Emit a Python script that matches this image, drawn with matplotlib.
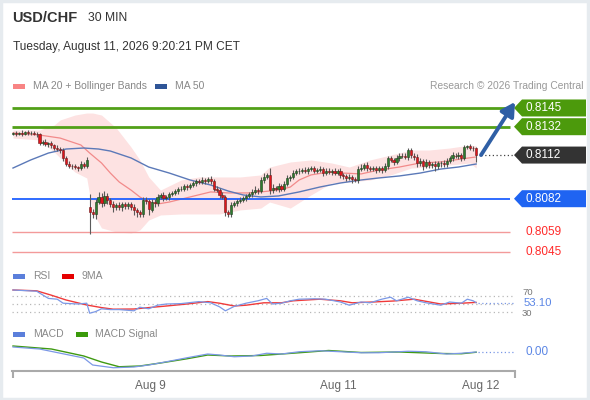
import matplotlib
matplotlib.use('Agg')
import matplotlib.pyplot as plt
import numpy as np
from matplotlib.patches import Polygon, Rectangle

plt.rcParams['font.family'] = ['Liberation Sans', 'DejaVu Sans']

# ---------------- data (prices in pips above 0.8000) ----------------
closes = [
    127.5, 127.0, 127.6, 127.2, 128.0, 127.4, 127.8, 127.0, 126.6,
    120.5,
    121.5, 119.8, 120.6, 119.0, 117.5, 116.8, 115.5, 110.0,
    106.0, 105.0, 104.5, 104.0, 103.5, 106.0, 105.0, 109.0,
    72.5,
    71.5, 80.0, 83.5, 79.0, 84.0, 81.0,
    78.5, 76.0, 77.5, 76.5, 78.0, 77.0, 78.5, 76.0, 74.0, 72.5, 71.5,
    81.0, 80.5, 74.5, 80.0, 79.0,
    83.5, 84.5, 82.5, 83.0, 85.5, 86.0,
    87.0, 88.5, 89.0, 90.5, 90.0, 91.5, 93.0, 94.0, 93.5,
    95.0, 94.5, 95.5, 94.0,
    89.0, 88.0, 84.5, 83.0, 72.5, 71.5, 77.5,
    79.0, 80.5, 81.0, 82.5, 84.0, 85.0,
    86.5, 88.0, 87.5, 95.0, 97.0, 98.5, 88.0,
    89.5, 88.5, 91.0, 89.0, 92.0, 96.5, 97.0, 100.0, 101.0,
    101.5, 102.0, 101.0, 102.5, 103.0, 101.5, 102.0, 102.5,
    100.0, 101.5, 100.5, 101.0, 100.0, 101.0, 98.5,
    97.5, 96.5, 97.0, 95.5, 95.0, 102.5,
    103.5, 105.5, 103.0, 102.5, 103.0, 102.0, 103.5, 102.0,
    104.5, 110.0, 109.0, 107.5, 110.5, 112.0, 111.5, 111.0, 116.0,
    112.0, 111.0, 106.5, 108.0, 105.0, 107.5, 105.5,
    106.0, 104.5, 106.5, 107.0, 106.0, 108.5,
    110.0, 112.0, 111.5, 112.5, 110.5, 118.0, 118.5, 117.5, 117.0, 112.3,
]
first_open = 127.2
gap_bar, gap_open = 26, 76.0

wick_hi = [
    1.0, 1.5, 1.0, 2.0, 1.0, 1.5, 1.0, 1.5, 1.0, 1.0,
    1.5, 2.0, 1.0, 1.5, 1.0, 1.5, 1.0, 1.5, 1.5, 2.0,
    1.0, 1.5, 1.0, 2.0, 1.5, 2.0, 9.0, 2.5, 2.0, 3.0,
    2.5, 3.5, 2.0, 1.5, 2.0, 1.5, 2.5, 1.5, 2.0, 1.5,
    1.5, 2.0, 1.5, 1.5, 2.0, 2.0, 1.5, 1.5, 2.0, 1.5,
    1.5, 2.0, 1.5, 1.5, 1.5, 2.0, 1.5, 1.5, 2.0, 1.5,
    1.5, 1.5, 2.0, 1.5, 2.0, 1.5, 1.5, 2.0, 1.5, 1.5,
    1.5, 2.0, 1.5, 1.5, 2.0, 1.5, 1.5, 2.0, 1.5, 1.5,
    1.5, 2.0, 2.5, 1.5, 2.0, 2.5, 1.5, 4.5, 2.5, 1.5,
    2.0, 1.5, 2.0, 2.0, 1.5, 2.0, 1.5, 2.0, 1.5, 2.0,
    1.5, 2.0, 1.5, 1.5, 2.0, 1.5, 2.0, 1.5, 1.5, 2.0,
    1.5, 2.0, 1.5, 1.5, 2.0, 1.5, 1.5, 2.0, 2.5, 1.5,
    2.0, 1.5, 1.5, 2.0, 1.5, 1.5, 2.0, 2.0, 1.5, 1.5,
    2.0, 1.5, 1.5, 2.0, 1.5, 1.5, 1.5, 2.0, 2.5, 1.5,
    2.0, 1.5, 1.5, 2.0, 1.5, 1.5, 2.0, 1.5, 2.0, 2.5,
    1.5, 2.0, 1.5, 1.5, 1.0, 1.5, 1.0, 1.0,
]
wick_lo = [
    1.0, 1.5, 1.0, 1.5, 1.0, 1.0, 1.5, 1.0, 1.5, 1.5,
    1.5, 1.5, 2.0, 1.5, 1.5, 2.0, 1.5, 2.0, 1.5, 2.0,
    2.0, 1.5, 2.0, 1.5, 2.0, 1.5, 15.0, 3.0, 3.5, 2.0,
    3.0, 2.0, 3.0, 2.5, 3.0, 2.0, 2.5, 3.0, 2.0, 2.5,
    2.0, 3.0, 3.0, 2.5, 2.0, 2.5, 3.5, 2.0, 2.5, 2.0,
    1.5, 2.0, 1.5, 2.0, 1.5, 1.5, 2.0, 1.5, 1.5, 2.0,
    1.5, 1.5, 2.0, 1.5, 1.5, 2.0, 1.5, 1.5, 2.0, 1.5,
    2.0, 1.5, 2.5, 2.0, 2.0, 1.5, 2.0, 1.5, 1.5, 2.0,
    1.5, 2.0, 1.5, 2.0, 1.5, 2.0, 1.5, 2.5, 2.0, 1.5,
    2.0, 1.5, 2.0, 1.5, 2.0, 1.5, 1.5, 2.0, 1.5, 1.5,
    2.0, 1.5, 1.5, 2.0, 1.5, 2.0, 1.5, 1.5, 2.0, 1.5,
    1.5, 2.0, 1.5, 2.0, 1.5, 2.5, 1.5, 2.0, 1.5, 1.5,
    2.0, 1.5, 1.5, 2.0, 1.5, 2.0, 1.5, 2.0, 1.5, 2.0,
    1.5, 2.0, 1.5, 1.5, 2.0, 1.5, 2.0, 2.5, 2.0, 3.0,
    2.0, 2.5, 2.0, 3.0, 2.0, 2.5, 2.0, 2.0, 1.5, 2.0,
    1.5, 2.0, 2.0, 1.5, 1.5, 1.5, 2.0, 4.8,
]

# Bollinger bands / moving averages (bar index, pips)
bb_idx = [0, 9, 14, 16, 21, 25, 27, 30, 35, 40, 43, 46, 50, 57, 63, 70, 77, 84, 87,
          94, 101, 108, 114, 121, 128, 135, 141, 148, 155, 157]
bb_up = [129.7, 129.7, 133.2, 136.7, 140.1, 141.5, 141.5, 140.1, 131.1, 117.9, 108.9,
         97.1, 88.0, 95.0, 97.1, 97.1, 97.1, 98.5, 104.0, 107.5, 108.9, 106.8, 104.0,
         108.9, 112.3, 115.8, 115.8, 117.2, 119.3, 118.6]
bb_lo = [124.1, 122.8, 114.4, 110.3, 100.5, 96.4, 72.8, 61.7, 58.9, 58.2, 60.3, 67.2,
         70.7, 71.4, 71.4, 71.4, 74.2, 75.5, 79.7, 75.5, 84.6, 92.9, 93.6, 95.0, 98.5,
         103.3, 104.0, 105.4, 106.8, 103.3]

ma20_idx = [0, 9, 16, 23, 26, 30, 33, 36, 40, 43, 46, 49, 53, 60, 67, 73, 80, 84, 90,
            94, 97, 101, 107, 112, 118, 124, 131, 138, 145, 152, 157]
ma20 = [127.6, 126.2, 124.1, 119.3, 113.7, 106.8, 99.8, 93.6, 88.0, 83.2, 79.7, 78.3,
        79.7, 83.2, 86.7, 86.0, 86.0, 86.7, 88.0, 90.1, 95.0, 98.5, 100.5, 99.8, 99.2,
        101.9, 104.0, 106.8, 107.5, 109.6, 111.0]

ma50_idx = [0, 6, 12, 18, 24, 29, 33, 40, 46, 53, 60, 67, 73, 78, 84, 90, 97, 104, 111,
            118, 124, 131, 138, 145, 151, 157]
ma50 = [103.3, 108.9, 113.7, 116.5, 117.2, 116.5, 115.1, 110.3, 104.0, 99.8, 95.0, 91.5,
        87.3, 84.6, 83.2, 83.9, 86.7, 90.1, 92.9, 95.0, 96.4, 97.8, 99.8, 102.6, 104.0,
        106.1]

# RSI and its 9MA
rsi_idx = [0, 8, 10, 12, 15, 17, 22, 25, 26, 28, 30, 33, 36, 41, 43, 46, 49, 52, 57, 63,
           67, 70, 72, 75, 79, 83, 86, 88, 91, 94, 97, 102, 106, 111, 114, 118, 121, 125,
           128, 130, 134, 137, 140, 145, 148, 152, 154, 156, 157]
rsi = [85, 82, 73, 64, 62, 52, 50, 52, 27, 31, 38, 36, 36, 33, 42, 38, 47, 50, 51, 56,
       53, 43, 33, 44, 52, 58, 64, 50, 52, 58, 62, 63, 62, 55, 47, 55, 53, 62, 67, 58,
       67, 58, 53, 47, 55, 52, 62, 58, 53.1]
rsi_ma_idx = [0, 8, 13, 18, 25, 30, 34, 41, 46, 52, 59, 66, 70, 75, 79, 85, 91, 95, 104,
              111, 115, 122, 129, 136, 145, 152, 157]
rsi_ma = [85, 83, 72, 60, 47.5, 41, 37, 37.5, 41, 45, 50, 56, 52, 45, 47, 53, 53, 58, 62,
          58, 53, 55, 57.5, 62, 50, 52, 54]

# MACD (pips)
macd_idx = [0, 9, 24, 27, 34, 41, 46, 52, 59, 66, 70, 75, 81, 86, 91, 97, 104, 111, 118,
            124, 134, 140, 147, 152, 157]
macd = [2.0, 1.2, -2.4, -5.2, -6.3, -6.0, -5.2, -3.9, -2.3, -0.8, -1.2, -1.9, -1.6, -0.5,
        -0.8, 0.1, 0.5, 0.1, -0.3, -0.3, 0.3, 0.1, -0.8, -0.5, 0.0]
sig_idx = [0, 13, 24, 30, 36, 43, 50, 59, 66, 74, 84, 97, 107, 118, 131, 145, 152, 157]
sig = [2.4, 1.2, -1.6, -4.0, -5.9, -5.6, -4.4, -2.7, -1.2, -1.6, -1.4, -0.3, 0.6, -0.2,
       0.0, -0.6, -0.7, -0.1]

levels = [0.8145, 0.8132, 0.8082, 0.8059, 0.8045]
level_labels = ['0.8145', '0.8132', '0.8082', '0.8059', '0.8045']
last_label = '0.8112'
rsi_label = '53.10'
macd_label = '0.00'
tick_pos = [46.5, 110.2, 158.6]
tick_labels = ['Aug 9', 'Aug 11', 'Aug 12']

# ---------------- layout helpers ----------------
W, H = 590, 400
fig = plt.figure(figsize=(W / 100, H / 100), dpi=100)
fig.patch.set_facecolor('white')

PX0, DX = 13.0, 2.95
def ix(px):
    return (px - PX0) / DX

def frect(x0, y0, x1, y1):
    return [x0 / W, 1 - y1 / H, (x1 - x0) / W, (y1 - y0) / H]

def fy(y):
    return 1 - y / H

PPX = 14400.0   # pixels per price unit
def py(y):      # price at pixel row y
    return 0.8082 + (198.7 - y) / PPX

XL = (ix(12), ix(586))

def clean(ax):
    for s in ax.spines.values():
        s.set_visible(False)
    ax.set_xticks([]); ax.set_yticks([])
    ax.set_facecolor('none')

# ---------------- main price panel ----------------
ax = fig.add_axes(frect(12, 95, 586, 262))
clean(ax)
ax.set_xlim(*XL)
ax.set_ylim(py(262), py(95))

c = 0.8 + np.array(closes) / 1e4
o = np.concatenate([[first_open], closes[:-1]])
o[gap_bar] = gap_open
o = 0.8 + o / 1e4
hi = np.maximum(o, c) + np.array(wick_hi) / 1e4
lo = np.minimum(o, c) - np.array(wick_lo) / 1e4
x = np.arange(len(c))

ax.fill_between(bb_idx, 0.8 + np.array(bb_lo) / 1e4, 0.8 + np.array(bb_up) / 1e4,
                color='#fde2e2', lw=0, zorder=1)
ax.plot(ma20_idx, 0.8 + np.array(ma20) / 1e4, color='#f28a8a', lw=0.9, zorder=2)
ax.plot(ma50_idx, 0.8 + np.array(ma50) / 1e4, color='#5b79b8', lw=1.0, zorder=2)

lcol = ['#52a018', '#52a018', '#1f60ff', '#f39a9a', '#f39a9a']
lw_ = [2.0, 2.0, 1.3, 1.0, 1.0]
for lv, col, w in zip(levels, lcol, lw_):
    ax.hlines(lv, ix(12), ix(510), color=col, lw=w, zorder=2)

up = c >= o
body = c - o
body = np.where(np.abs(body) < 0.00004, np.where(up, 0.00004, -0.00004), body)
ax.vlines(x, lo, hi, color='#5a5a5a', lw=0.8, zorder=3)
ax.bar(x[up], body[up], bottom=o[up], width=0.72, color='#2e7d2e',
       edgecolor='#1f3f1f', linewidth=0.4, zorder=4)
ax.bar(x[~up], body[~up], bottom=o[~up], width=0.72, color='#e0151b',
       edgecolor='#6a1d1d', linewidth=0.4, zorder=4)

# last price dotted
ax.hlines(c[-1], ix(481), ix(515), color='#444444', lw=0.9, linestyles=(0, (1, 2)), zorder=2)

# tags
hh = 8.5 / PPX
def tag(lv, col, txt):
    pts = [(ix(514), lv), (ix(522), lv + hh), (ix(586), lv + hh),
           (ix(586), lv - hh), (ix(522), lv - hh)]
    ax.add_patch(Polygon(pts, closed=True, facecolor=col, edgecolor='none',
                         zorder=5, clip_on=False))
    ax.text(ix(525), lv, txt, color='white', fontsize=8.5, va='center', ha='left',
            zorder=6, clip_on=False)

tag(levels[0], '#4c9a0c', level_labels[0])
tag(levels[1], '#4c9a0c', level_labels[1])
tag(c[-1], '#333333', last_label)
tag(levels[2], '#1f64f2', level_labels[2])
for lv, t in zip(levels[3:], level_labels[3:]):
    ax.text(ix(525), lv, t, color='#ff2a2a', fontsize=8.5, va='center', ha='left')

# projection arrow
ax.annotate('', xy=(ix(515), py(102)), xytext=(ix(481), c[-1]),
            arrowprops=dict(arrowstyle='-|>,head_width=0.45,head_length=0.8',
                            color='#2f5fa5', lw=2.8, shrinkA=0, shrinkB=0),
            zorder=7, annotation_clip=False)

# ---------------- RSI panel ----------------
def ry(y):
    return 50 + (304 - y) / 0.4
ar = fig.add_axes(frect(12, 285, 586, 322))
clean(ar)
ar.set_xlim(*XL)
ar.set_ylim(ry(322), ry(285))
for lv in (70, 50, 30):
    ar.hlines(lv, ix(12), ix(515), color='#b8b8b8', lw=0.9, linestyles=(0, (1, 2.5)))
ar.plot(rsi_idx, rsi, color='#7b98e6', lw=0.9, zorder=3)
ar.plot(rsi_ma_idx, rsi_ma, color='#f03a3a', lw=1.0, zorder=2)
ar.hlines(rsi[-1], ix(478), ix(515), color='#7b98e6', lw=0.9, linestyles=(0, (1, 2)))
ar.text(ix(522), ry(292.3), '70', color='#777777', fontsize=6.8, va='center', ha='left')
ar.text(ix(522), ry(314.0), '30', color='#777777', fontsize=6.8, va='center', ha='left')
ar.text(ix(524), rsi[-1], rsi_label, color='#5b86e5', fontsize=8.2, va='center', ha='left')

# ---------------- MACD panel ----------------
def my(y):
    return (352 - y) * 0.4
am = fig.add_axes(frect(12, 340, 586, 370.5))
for s in ('top', 'left', 'right'):
    am.spines[s].set_visible(False)
am.set_facecolor('none')
am.set_xlim(*XL)
am.set_ylim(my(370.5), my(340))
am.set_yticks([])
am.plot(sig_idx, sig, color='#3f9a12', lw=1.0, zorder=2)
am.plot(macd_idx, macd, color='#7b98e6', lw=0.9, zorder=3)
am.hlines(0, ix(478), ix(515), color='#7b98e6', lw=0.9, linestyles=(0, (1, 2)))
am.text(ix(525), 0, macd_label, color='#5b86e5', fontsize=8.5, va='center', ha='left')

sp = am.spines['bottom']
sp.set_color('#aaaaaa'); sp.set_linewidth(1.5)
sp.set_bounds(ix(12), ix(515))
am.set_xticks(tick_pos)
am.set_xticklabels(tick_labels)
am.tick_params(axis='x', which='major', length=0, pad=7, labelsize=8.5, labelcolor='#666666')
am.set_xticks([ix(12.5), ix(514.5)], minor=True)
am.tick_params(axis='x', which='minor', length=5, width=1.5, color='#aaaaaa', direction='out')

# ---------------- header & legends ----------------
fig.text(12 / W, fy(18), 'USD/CHF', fontsize=10.5, fontweight='bold', color='#333333', va='center')
fig.text(88 / W, fy(18), '30 MIN', fontsize=8.7, color='#333333', va='center')
fig.text(13 / W, fy(47), 'Tuesday, August 11, 2026 9:20:21 PM CET', fontsize=8.6,
         color='#333333', va='center')

def legend_item(x0, y, col, txt, tx):
    fig.patches.append(Rectangle((x0 / W, fy(y + 2.5)), 12 / W, 5 / H, transform=fig.transFigure,
                                 facecolor=col, edgecolor='none'))
    fig.text(tx / W, fy(y), txt, fontsize=7.5, color='#888888', va='center')

legend_item(13, 86, '#f88484', 'MA 20 + Bollinger Bands', 33)
legend_item(155, 86, '#2f5597', 'MA 50', 175)
fig.text(583 / W, fy(86), 'Research \u00a9 2026 Trading Central', fontsize=7.4,
         color='#999999', va='center', ha='right')
legend_item(13, 276, '#5b7fdb', 'RSI', 33)
legend_item(62, 276, '#e50000', '9MA', 82)
legend_item(13, 334, '#5b7fdb', 'MACD', 33)
legend_item(76, 334, '#3a9a0a', 'MACD Signal', 95)

# frame
fig.patches.append(Rectangle((0.002, 0.003), 0.995, 0.994, transform=fig.transFigure,
                             facecolor='none', edgecolor='#e6ebef', lw=2.5))

fig.savefig('out.png', dpi=100)
